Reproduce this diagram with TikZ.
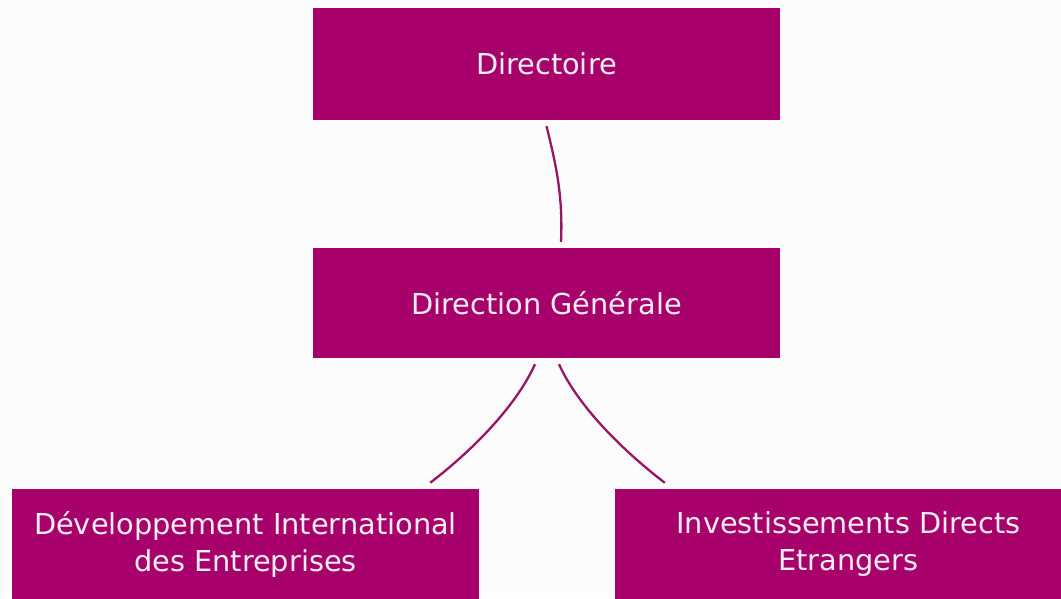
\documentclass[tikz,border=0pt]{standalone}
\usepackage{fontspec}
\setmainfont{DejaVu Sans}
\definecolor{prune}{RGB}{168,0,106}
\definecolor{trait}{RGB}{150,22,100}
\definecolor{fond}{RGB}{252,252,252}
\definecolor{texte}{RGB}{250,238,246}
\tikzset{
    boite/.style={fill=prune, text=texte, minimum width=467pt, align=center,
        font=\fontsize{28.8}{37}\selectfont},
    lien/.style={draw=trait, line width=2.3pt}
}
\begin{document}
\begin{tikzpicture}[x=1pt, y=1pt]
    % CADRE
    \fill[fond] (0,0) rectangle (1061,598);
    \useasboundingbox (0,0) rectangle (1061,598);

    % 1. NIVEAU HAUT
    \node[boite, minimum height=112pt] (dir) at (546.5,534) {Directoire};

    % 2. DIRECTION
    \node[boite, minimum height=110pt] (dg) at (546.5,295) {Direction Générale};

    % 3. SERVICES
    \node[boite, minimum height=110pt] (dei) at (245.5,54) {Développement International\\des Entreprises};
    \node[boite, minimum height=110pt] (ide) at (848.5,54) {Investissements Directs\\Etrangers};

    % 4. LIENS
    \draw[lien] ([yshift=-6pt]dir.south) .. controls +(10,-40) and +(2,45) .. ([xshift=14.5pt, yshift=6pt]dg.north);
    \draw[lien] ([xshift=-11.5pt, yshift=-6pt]dg.south) .. controls +(-18,-40) and +(45.5,35) .. ([xshift=-49pt, yshift=6pt]dei.north east);
    \draw[lien] ([xshift=12.5pt, yshift=-6pt]dg.south) .. controls +(18,-40) and +(-45.5,35) .. ([xshift=50pt, yshift=6pt]ide.north west);

\end{tikzpicture}
\end{document}
